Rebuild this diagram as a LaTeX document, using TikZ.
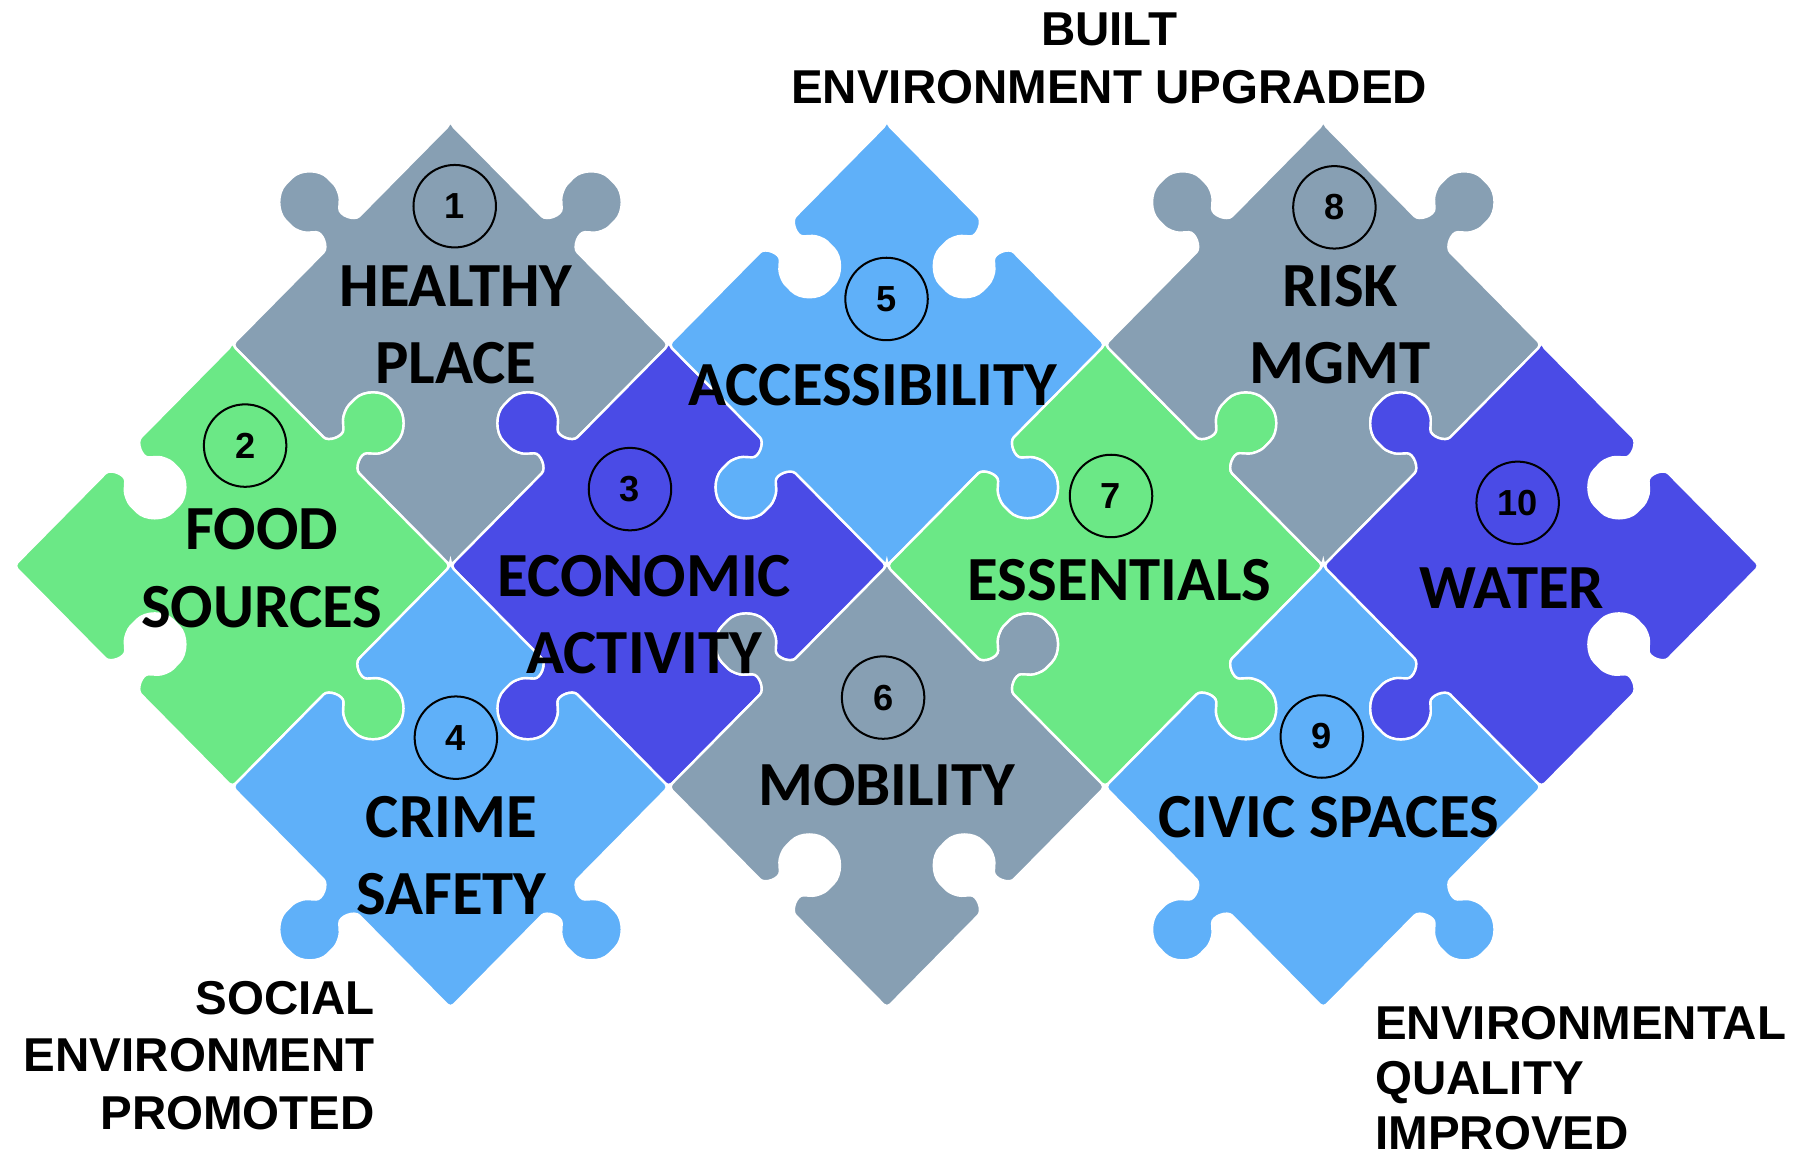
\documentclass[tikz,border=0pt]{standalone}
\usepackage{fontspec}
\newfontfamily\pcfont{Carlito}
\newfontfamily\lblfont{Liberation Sans}
\definecolor{pcgray}{HTML}{879FB3}
\definecolor{pclight}{HTML}{5FB0F9}
\definecolor{pcgreen}{HTML}{6BE886}
\definecolor{pcdark}{HTML}{4A4BE6}
\tikzset{
	% one side of a piece: #1 rotation, #2 = 1 tab, -1 blank
	pedge/.style 2 args={insert path={
		-- ([rotate=#1]26,\pa)
		.. controls ([rotate=#1]16,\pa) and ([rotate=#1]{10},{\pa+(#2)*13}) .. ([rotate=#1]{17.4},{\pa+(#2)*19.68})
		.. controls ([rotate=#1]{22.88},{\pa+(#2)*24.61}) and ([rotate=#1]{26},{\pa+(#2)*31.63}) .. ([rotate=#1]{26},{\pa+(#2)*39})
		.. controls ([rotate=#1]{26},{\pa+(#2)*53.36}) and ([rotate=#1]{14.36},{\pa+(#2)*65}) .. ([rotate=#1]{0},{\pa+(#2)*65})
		.. controls ([rotate=#1]{-14.36},{\pa+(#2)*65}) and ([rotate=#1]{-26},{\pa+(#2)*53.36}) .. ([rotate=#1]{-26},{\pa+(#2)*39})
		.. controls ([rotate=#1]{-26},{\pa+(#2)*31.63}) and ([rotate=#1]{-22.88},{\pa+(#2)*24.61}) .. ([rotate=#1]{-17.4},{\pa+(#2)*19.68})
		.. controls ([rotate=#1]{-10},{\pa+(#2)*13}) and ([rotate=#1]{-16},\pa) .. ([rotate=#1]{-26},\pa)
		-- ([rotate=#1]{-\pa},\pa)
	}},
	% sides in order NE, NW, SW, SE
	piece/.style n args={4}{insert path={(\pa,\pa) [pedge={0}{#2}] [pedge={90}{#3}] [pedge={180}{#4}] [pedge={270}{#1}] -- cycle}},
	pframe/.style={shift={#1}, yscale=1.013, y=0.1mm, rotate=45, draw=white, line width=0.6pt, rounded corners=0.4mm},
	numc/.style={circle, draw=black, line width=0.5pt, minimum size=7.2mm, inner sep=0pt, font=\lblfont\bfseries\fontsize{9}{10}\selectfont},
	ptext/.style={font=\pcfont\bfseries\fontsize{15.6}{19}\selectfont, anchor=base, inner sep=0pt},
	otext/.style={font=\lblfont\bfseries\fontsize{11.8}{14.2}\selectfont, inner sep=0pt, text depth=0pt},
}
\begin{document}
\begin{tikzpicture}[x=0.1mm, y=-0.1mm]
	\def\pa{134.7};
	\useasboundingbox (0,0) rectangle (1568,1011);
	
	\fill[pframe={(393.3,301)}, fill=pcgray] [piece={1}{1}{-1}{-1}];
	\fill[pframe={(202.8,494)}, fill=pcgreen] [piece={1}{-1}{-1}{1}];
	\fill[pframe={(583.8,494)}, fill=pcdark] [piece={-1}{1}{1}{-1}];
	\fill[pframe={(393.3,687)}, fill=pclight] [piece={-1}{-1}{1}{1}];
	\fill[pframe={(774.3,301)}, fill=pclight] [piece={-1}{-1}{1}{1}];
	\fill[pframe={(774.3,687)}, fill=pcgray] [piece={1}{1}{-1}{-1}];
	\fill[pframe={(964.8,494)}, fill=pcgreen] [piece={1}{-1}{-1}{1}];
	\fill[pframe={(1155.3,301)}, fill=pcgray] [piece={1}{1}{-1}{-1}];
	\fill[pframe={(1155.3,687)}, fill=pclight] [piece={-1}{-1}{1}{1}];
	\fill[pframe={(1345.8,494)}, fill=pcdark] [piece={-1}{1}{1}{-1}];
	
	\node[numc] (c1) at (397,180) {1};
	\node[numc] (c2) at (214,389) {2};
	\node[numc] (c3) at (550,427) {3};
	\node[numc] (c4) at (398,644) {4};
	\node[numc] (c5) at (774,261) {5};
	\node[numc] (c6) at (771,609) {6};
	\node[numc] (c7) at (970,433) {7};
	\node[numc] (c8) at (1165,181) {8};
	\node[numc] (c9) at (1154,643) {9};
	\node[numc] (c10) at (1325,439) {10};
	
	\node[ptext] (healthy) at (398,267.8) {HEALTHY};
	\node[ptext] (place) at (398,334.7) {PLACE};
	\node[ptext] (food) at (228.5,480) {FOOD};
	\node[ptext] (sources) at (228.5,547.4) {SOURCES};
	\node[ptext] (economic) at (562.5,521) {ECONOMIC};
	\node[ptext] (activity) at (562.5,587.6) {ACTIVITY};
	\node[ptext] (crime) at (394,731.5) {CRIME};
	\node[ptext] (safety) at (394,798.4) {SAFETY};
	\node[ptext] (access) at (762,354) {ACCESSIBILITY};
	\node[ptext] (mobility) at (774,703) {MOBILITY};
	\node[ptext] (essent) at (977.5,524) {ESSENTIALS};
	\node[ptext] (risk) at (1170,267.7) {RISK};
	\node[ptext] (mgmt) at (1170,334.7) {MGMT};
	\node[ptext] (civic) at (1160,731.5) {CIVIC SPACES};
	\node[ptext] (water) at (1320,531) {WATER};
	
	\node[otext, anchor=base] (builta) at (968.5,40) {BUILT};
	\node[otext, anchor=base] (builtb) at (968.5,90) {ENVIRONMENT UPGRADED};
	\node[otext, anchor=base east] (sociala) at (328,885.5) {SOCIAL};
	\node[otext, anchor=base east] (socialb) at (328,935.7) {ENVIRONMENT};
	\node[otext, anchor=base east] (socialc) at (328,985.9) {PROMOTED};
	\node[otext, anchor=base west] (enva) at (1200,907.5) {ENVIRONMENTAL};
	\node[otext, anchor=base west] (envb) at (1200,955.5) {QUALITY};
	\node[otext, anchor=base west] (envc) at (1200,1003.5) {IMPROVED};
\end{tikzpicture}
\end{document}
